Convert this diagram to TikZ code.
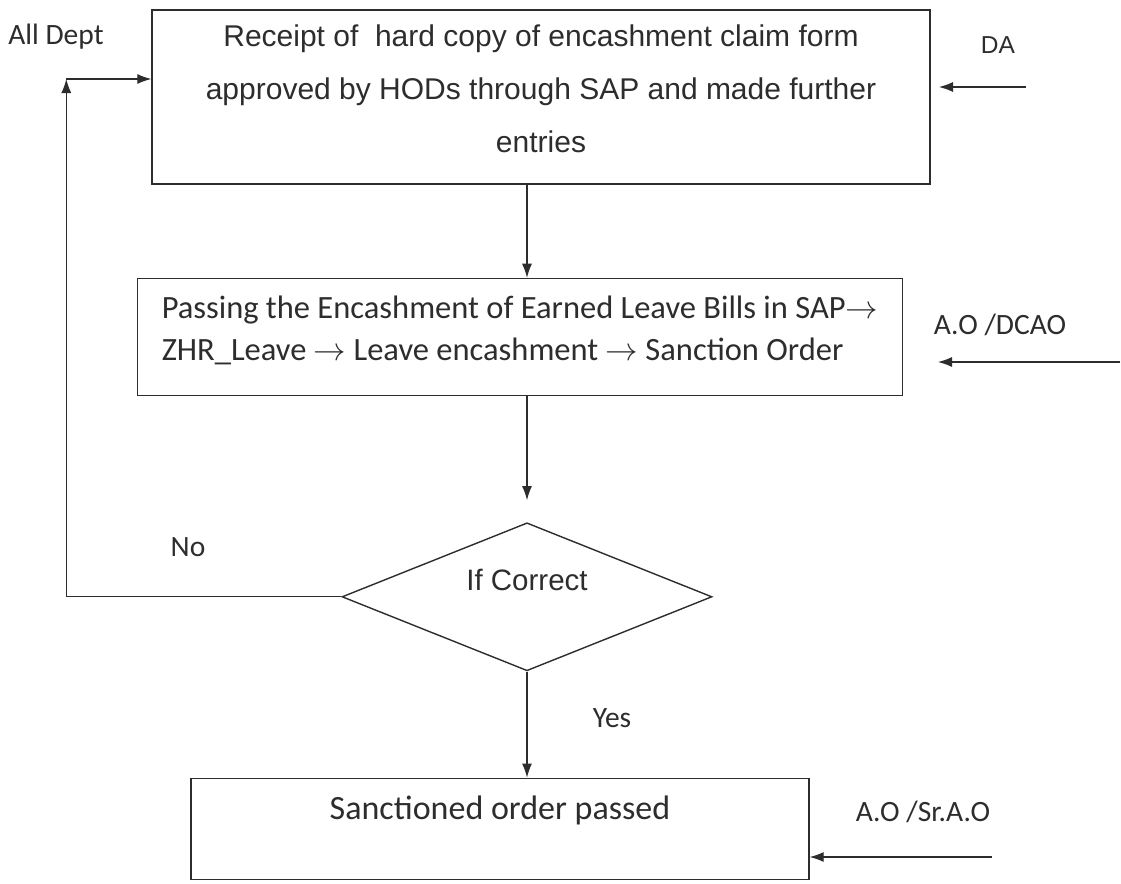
\RequirePackage{fix-cm}
\documentclass[tikz,border=0pt]{standalone}
\usepackage{fontspec}
\setmainfont{Liberation Sans}
\newfontfamily\calfont{Carlito}
\usepackage{tikz}
\usetikzlibrary{calc, shapes.geometric, arrows.meta, positioning}
\definecolor{ink}{RGB}{45, 45, 45}
\definecolor{paper}{RGB}{255, 255, 255}

\begin{document}
\begin{tikzpicture}[
    font=\fontsize{30}{53}\selectfont,
    text=ink,
    block/.style={rectangle, draw=ink, line width=1.4pt, fill=paper, inner sep=0pt},
    decision/.style={diamond, draw=ink, line width=1.4pt, fill=paper, inner sep=0pt, minimum width=370pt, minimum height=148pt},
    lbl/.style={inner sep=0pt, font=\calfont\fontsize{29.5}{34}\selectfont},
    line/.style={draw=ink, line width=1.1pt, -{Latex[length=14pt, width=10pt]}}
]
    \fill[paper] (0,0) rectangle (1121pt,-883pt);
    \useasboundingbox (0,0) rectangle (1121pt,-883pt);

    \node [block, minimum width=778pt, minimum height=174pt, align=center] (rcpt) at (541pt,-97pt)
        {\raisebox{8pt}[\height][\depth]{\parbox{760pt}{\centering Receipt of \ hard copy of encashment claim form\\
        approved by HODs through SAP and made further\\ entries}}};
    \node [block, below=93pt of rcpt, xshift=-21pt, minimum width=765pt, minimum height=117pt,
        font=\calfont\fontsize{32.5}{42}\selectfont] (pass)
        {\raisebox{6pt}[\height][\depth]{\begin{tabular}{@{}l@{}}
        Passing the Encashment of Earned Leave Bills in SAP$\rightarrow$\\
        ZHR\_Leave $\rightarrow$ Leave encashment $\rightarrow$ Sanction Order\end{tabular}}};
    \node [decision, below=126pt of pass, xshift=7pt, font=\fontsize{29.5}{34}\selectfont] (dec)
        {\raisebox{17pt}[\height][\depth]{If Correct}};
    \node [block, below=106pt of dec, xshift=-27pt, minimum width=618pt, minimum height=101pt,
        font=\calfont\fontsize{34}{40}\selectfont] (sanc)
        {\raisebox{18pt}[\height][\depth]{Sanctioned order passed}};

    % side labels
    \node [lbl] (alldept) at (56pt,-37pt) {All Dept};
    \node [inner sep=0pt, font=\fontsize{24.5}{30}\selectfont] (da) at (998pt,-45pt) {DA};
    \node [lbl] (aodcao) at (1000pt,-325pt) {A.O /DCAO};
    \node [lbl] (aosrao) at (923pt,-812pt) {A.O /Sr.A.O};
    \node [lbl] (no) at (188pt,-547pt) {No};
    \node [lbl] (yes) at (612pt,-718pt) {Yes};

    \coordinate (ret) at ($(rcpt.west)+(-85pt,18pt)$);
    \coordinate (daSrc) at (1026pt,-87pt);
    \coordinate (daTip) at (939pt,-87pt);
    \coordinate (dcSrc) at (1120pt,-362pt);
    \coordinate (dcTip) at (938pt,-362pt);
    \coordinate (srSrc) at (992pt,-857pt);

    \path [line] (rcpt.south -| dec.north) -- (pass.north -| dec.north);
    \path [line, shorten >=22pt] (pass.south -| dec.north) -- (dec.north);
    \path [line] (dec.south) -- (dec.south |- sanc.north);
    \draw [line] (dec.west) -| (ret);
    \draw [line] (ret) -- (ret -| rcpt.west);
    \draw [line] (daSrc) -- (daTip);
    \draw [line] (dcSrc) -- (dcTip);
    \draw [line] (srSrc) -- (srSrc -| sanc.east);

\end{tikzpicture}
\end{document}
